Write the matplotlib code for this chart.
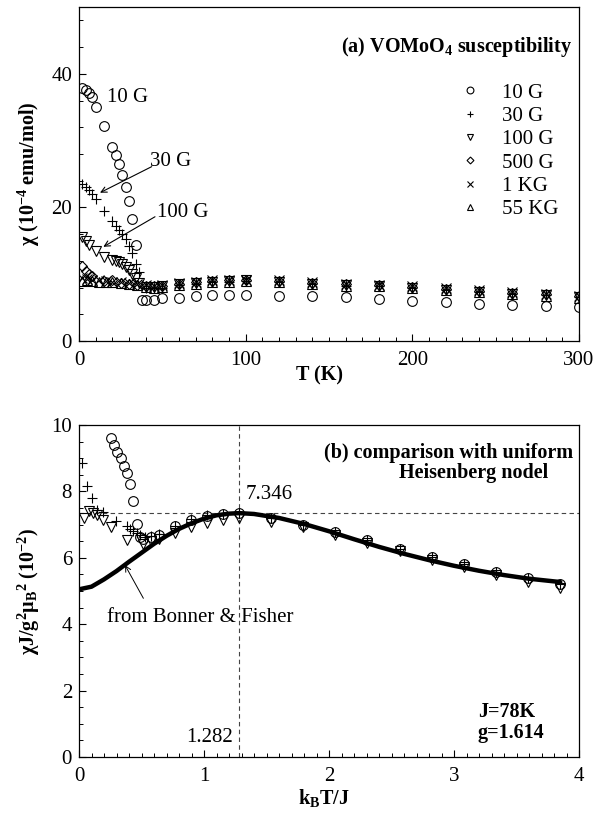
import matplotlib
matplotlib.use("Agg")
import matplotlib.pyplot as plt
from matplotlib.ticker import MultipleLocator
import numpy as np

plt.rcParams['font.family'] = ['Liberation Serif', 'DejaVu Serif']
plt.rcParams['mathtext.default'] = 'regular'

# ---------------- panel (a) data ----------------
T_10G = [2, 4, 6, 8, 10, 15, 20, 22, 24, 26, 28, 30, 32, 34, 38, 40, 45, 50, 60, 70,
         80, 90, 100, 120, 140, 160, 180, 200, 220, 240, 260, 280, 300]
chi_10G = [37.8, 37.6, 37.2, 36.5, 35.1, 32.2, 29.1, 27.9, 26.5, 24.9, 23.1, 21.0, 18.2, 14.3,
           6.2, 6.1, 6.1, 6.4, 6.5, 6.7, 6.9, 6.9, 6.9, 6.8, 6.7, 6.55, 6.3, 6.05, 5.8, 5.6,
           5.4, 5.25, 5.15]

T_30G = [2, 4, 6, 8, 10, 15, 20, 22, 24, 26, 28, 30, 32, 34, 36, 40, 45, 50, 60, 70, 80, 90,
         100, 120, 140, 160, 180, 200, 220, 240, 260, 280, 300]
chi_30G = [23.5, 23.1, 22.6, 22.0, 21.3, 19.5, 17.9, 17.2, 16.6, 16.0, 15.3, 14.2, 13.2, 11.6,
           10.3, 8.0, 7.9, 8.0, 8.4, 8.6, 8.8, 8.9, 9.0, 8.8, 8.5, 8.3, 8.2, 7.9, 7.6, 7.4,
           7.1, 6.9, 6.6]

T_100G = [2, 4, 6, 10, 15, 20, 22, 24, 26, 28, 30, 32, 34, 36, 40, 45, 50, 60, 70, 80, 90,
          100, 120, 140, 160, 180, 200, 220, 240, 260, 280, 300]
chi_100G = [15.5, 14.9, 14.3, 13.5, 12.6, 12.2, 12.0, 11.8, 11.5, 11.1, 10.6, 10.0, 9.4, 8.7,
            8.1, 8.1, 8.2, 8.5, 8.7, 8.9, 9.0, 9.1, 8.9, 8.6, 8.4, 8.3, 8.0, 7.7, 7.4, 7.1,
            6.9, 6.6]

T_500G = [2, 4, 6, 8, 15, 20, 25, 30, 35, 40, 45, 50, 60, 70, 80, 90, 100, 120, 140, 160,
          180, 200, 220, 240, 260, 280, 300]
chi_500G = [11.2, 10.5, 10.0, 9.7, 9.0, 9.2, 8.7, 8.5, 8.4, 8.3, 8.2, 8.3, 8.6, 8.8, 9.0, 9.1,
            9.2, 9.0, 8.7, 8.5, 8.4, 8.1, 7.8, 7.5, 7.2, 7.0, 6.7]

T_1KG = [2, 5, 8, 12, 16, 20, 25, 30, 35, 40, 45, 50, 60, 70, 80, 90, 100, 120, 140, 160,
         180, 200, 220, 240, 260, 280, 300]
chi_1KG = [9.4, 9.3, 9.2, 9.1, 9.0, 8.9, 8.8, 8.7, 8.5, 8.4, 8.3, 8.4, 8.7, 8.9, 9.1, 9.2,
           9.2, 9.1, 8.8, 8.6, 8.4, 8.2, 7.9, 7.6, 7.3, 7.1, 6.8]

T_55KG = [2, 5, 8, 12, 16, 20, 25, 30, 35, 40, 45, 50, 60, 70, 80, 90, 100, 120, 140, 160,
          180, 200, 220, 240, 260, 280, 300]
chi_55KG = [9.0, 9.1, 9.0, 8.9, 8.8, 8.8, 8.7, 8.6, 8.4, 8.1, 8.0, 8.1, 8.4, 8.6, 8.8, 8.9,
            9.0, 8.8, 8.5, 8.3, 8.2, 7.9, 7.6, 7.3, 7.0, 6.8, 6.5]

# ---------------- panel (b) data ----------------
J = 78.0
Tb_10G = [20, 22, 24, 26, 28, 30, 32, 34, 36, 38, 40, 45, 50, 60, 70, 80, 90, 100, 120, 140,
          160, 180, 200, 220, 240, 260, 280, 300]
yb_10G = [9.6, 9.4, 9.2, 9.0, 8.76, 8.54, 8.21, 7.72, 7.02, 6.62, 6.58, 6.64, 6.7, 6.95, 7.15,
          7.27, 7.32, 7.35, 7.2, 7.0, 6.78, 6.53, 6.28, 6.03, 5.82, 5.57, 5.38, 5.2]

Tb_30G = [2, 5, 8, 11, 15, 23, 30, 32, 34, 36, 38, 41, 45, 50, 60, 70, 80, 90, 100, 120, 140,
          160, 180, 200, 220, 240, 260, 280, 300]
yb_30G = [8.85, 8.15, 7.8, 7.45, 7.37, 7.1, 6.95, 6.88, 6.82, 6.76, 6.68, 6.62, 6.66, 6.72,
          6.96, 7.16, 7.28, 7.33, 7.35, 7.2, 7.0, 6.78, 6.53, 6.28, 6.03, 5.82, 5.57, 5.38, 5.2]

Tb_100G = [3, 6, 9, 11, 15, 20, 30, 40, 45, 50, 60, 70, 80, 90, 100, 120, 140, 160, 180, 200,
           220, 240, 260, 280, 300]
yb_100G = [7.2, 7.42, 7.36, 7.3, 7.13, 6.92, 6.55, 6.42, 6.5, 6.58, 6.74, 6.92, 7.05, 7.15,
           7.2, 7.09, 6.92, 6.68, 6.44, 6.19, 5.94, 5.72, 5.48, 5.27, 5.08]

bf_x = [0, 0.1, 0.2, 0.3, 0.4, 0.5, 0.6, 0.7, 0.8, 0.9, 1.0, 1.1, 1.2, 1.282, 1.4, 1.6, 1.8,
        2.0, 2.2, 2.4, 2.6, 2.8, 3.0, 3.2, 3.4, 3.6, 3.85]
bf_y = [5.05, 5.13, 5.35, 5.6, 5.88, 6.15, 6.42, 6.66, 6.87, 7.04, 7.18, 7.28, 7.33, 7.346,
        7.32, 7.2, 7.02, 6.8, 6.56, 6.33, 6.12, 5.93, 5.76, 5.61, 5.48, 5.37, 5.27]

peak_x = 1.282
peak_y = 7.346

# ---------------- figure ----------------
fig = plt.figure(figsize=(5.97, 8.13), dpi=100)
axA = fig.add_axes([79/597, 1-341/813, 500/597, 334/813])
axB = fig.add_axes([79/597, 1-757/813, 500/597, 332/813])

ms = 7
mkw = dict(linestyle='none', markerfacecolor='none', markeredgecolor='black',
           markeredgewidth=0.8, markersize=ms)

axA.plot(T_10G, chi_10G, marker='o', label='10 G', **mkw)
axA.plot(T_30G, chi_30G, marker='+', label='30 G', **mkw)
axA.plot(T_100G, chi_100G, marker='v', label='100 G', **mkw)
axA.plot(T_500G, chi_500G, marker='D', label='500 G',
         **{**mkw, 'markersize': 5})
axA.plot(T_1KG, chi_1KG, marker='x', label='1 KG', **mkw)
axA.plot(T_55KG, chi_55KG, marker='^', label='55 KG', **mkw)

axA.set_xlim(0, 300)
axA.set_ylim(0, 50)
axA.xaxis.set_major_locator(MultipleLocator(100))
axA.xaxis.set_minor_locator(MultipleLocator(10))
axA.set_yticks([0, 20, 40])
axA.yaxis.set_minor_locator(MultipleLocator(4))

leg = axA.legend(loc='upper right', bbox_to_anchor=(0.958, 0.772), frameon=False,
                 fontsize=15, markerscale=0.7, handlelength=1.2, handletextpad=0.9,
                 labelspacing=0.18, borderaxespad=0.0, borderpad=0.0)

axA.text(296, 44.0, '(a) VOMoO$_4$ susceptibility', ha='right', va='center',
         fontsize=14.5, fontweight='bold')
axA.text(17, 36.4, '10 G', ha='left', va='center', fontsize=15)
axA.text(42.6, 26.8, '30 G', ha='left', va='center', fontsize=15)
axA.text(46.8, 19.3, '100 G', ha='left', va='center', fontsize=15)
akw = dict(arrowstyle='->', color='black', lw=0.8, shrinkA=0, shrinkB=0)
axA.annotate('', xy=(12.6, 22.2), xytext=(43.6, 26.1), arrowprops=akw)
axA.annotate('', xy=(14.6, 14.1), xytext=(45.6, 18.6), arrowprops=akw)

axA.set_xlabel('T (K)', fontsize=14.5, fontweight='bold')
axA.xaxis.set_label_coords(0.482, -0.072)
axA.set_ylabel('χ (10$^{-4}$ emu/mol)', fontsize=14.5, fontweight='bold')
axA.yaxis.set_label_coords(-0.074, 0.5)

# panel (b)
xb_10G = np.array(Tb_10G) / J
xb_30G = np.array(Tb_30G) / J
xb_100G = np.array(Tb_100G) / J

axB.axhline(peak_y, color='#444444', lw=0.8, ls=(0, (4, 3)), zorder=1)
axB.axvline(peak_x, color='#444444', lw=0.8, ls=(0, (4, 3)), zorder=1)
axB.plot(bf_x, bf_y, color='black', lw=3.2, solid_capstyle='round', zorder=2)
axB.plot(xb_100G, yb_100G, marker='v', zorder=3, **mkw)
axB.plot(xb_10G, yb_10G, marker='o', zorder=3, **mkw)
axB.plot(xb_30G, yb_30G, marker='+', zorder=4, **mkw)

axB.set_xlim(0, 4)
axB.set_ylim(0, 10)
axB.xaxis.set_major_locator(MultipleLocator(1))
axB.xaxis.set_minor_locator(MultipleLocator(0.1))
axB.yaxis.set_major_locator(MultipleLocator(2))
axB.yaxis.set_minor_locator(MultipleLocator(0.5))

axB.text(3.95, 9.17, '(b) comparison with uniform', ha='right', va='center',
         fontsize=14.5, fontweight='bold')
axB.text(2.56, 8.55, 'Heisenberg nodel', ha='left', va='center',
         fontsize=14.5, fontweight='bold')
axB.text(1.336, 7.9, '7.346', ha='left', va='center', fontsize=15)
axB.text(1.235, 0.6, '1.282', ha='right', va='center', fontsize=15)
axB.text(0.224, 4.19, 'from Bonner & Fisher', ha='left', va='center', fontsize=15)
axB.annotate('', xy=(0.368, 5.78), xytext=(0.515, 4.78),
             arrowprops=dict(arrowstyle='->', color='black', lw=0.7, shrinkA=0, shrinkB=0))
axB.text(3.19, 1.36, 'J=78K', ha='left', va='center', fontsize=14.5, fontweight='bold')
axB.text(3.19, 0.72, 'g=1.614', ha='left', va='center', fontsize=14.5, fontweight='bold')

axB.set_xlabel('k$_B$T/J', fontsize=14.5, fontweight='bold')
axB.xaxis.set_label_coords(0.49, -0.09)
axB.set_ylabel('χJ/g$^2$μ$_B$$^2$ (10$^{-2}$)', fontsize=14.5, fontweight='bold')
axB.yaxis.set_label_coords(-0.074, 0.5)

for ax in (axA, axB):
    ax.tick_params(which='both', direction='in', top=False, right=False,
                   labelsize=15)
    ax.tick_params(which='major', length=5, width=0.8)
    ax.tick_params(which='minor', length=3, width=0.7)
    for s in ax.spines.values():
        s.set_linewidth(0.9)
    ax.tick_params(axis='x', pad=7)
    ax.tick_params(axis='y', pad=5)

fig.savefig('out.png', dpi=100)
